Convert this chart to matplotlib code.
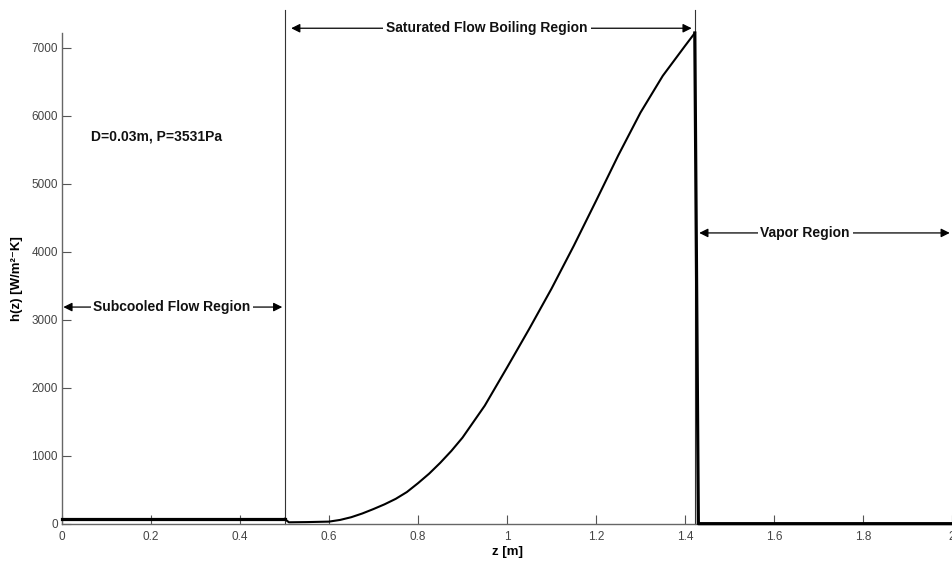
import matplotlib
matplotlib.use('Agg')
import matplotlib.pyplot as plt

# heat transfer coefficient along the tube
z_sub = [0.0, 0.5]
h_sub = [75, 75]

z_sat = [0.5, 0.51, 0.55, 0.6, 0.625, 0.65, 0.675, 0.7, 0.725, 0.75, 0.775,
         0.8, 0.825, 0.85, 0.875, 0.9, 0.95, 1.0, 1.05, 1.1, 1.15, 1.2,
         1.25, 1.3, 1.35, 1.4, 1.422]
h_sat = [75, 25, 28, 35, 60, 100, 155, 220, 290, 370, 470,
         600, 740, 900, 1075, 1270, 1740, 2300, 2870, 3460, 4090, 4750,
         5420, 6050, 6590, 7030, 7220]

z_vap = [1.422, 1.43, 2.0]
h_vap = [7220, 5, 5]

boundaries = [0.5, 1.422]
xticks = [0, 0.2, 0.4, 0.6, 0.8, 1, 1.2, 1.4, 1.6, 1.8, 2]
yticks = [0, 1000, 2000, 3000, 4000, 5000, 6000, 7000]

plt.rcParams['font.family'] = ['Liberation Sans', 'DejaVu Sans']

fig = plt.figure(figsize=(9.52, 5.64), dpi=100)
ax = fig.add_axes([62/952, 40/564, 890/952, 491/564])

ax.plot(z_sub, h_sub, color='k', lw=2.3, clip_on=False, zorder=3)
ax.plot(z_sat, h_sat, color='k', lw=1.5, clip_on=False, zorder=3,
        solid_joinstyle='round')
ax.plot(z_vap, h_vap, color='k', lw=2.3, clip_on=False, zorder=3)

for b in boundaries:
    ax.plot([b, b], [0, 7560], color='#333333', lw=0.8, clip_on=False)

ax.set_xlim(0, 2)
ax.set_ylim(0, 7220)
ax.set_xticks(xticks)
ax.set_xticklabels(['%g' % t for t in xticks])
ax.set_yticks(yticks)

for s in ['top', 'right']:
    ax.spines[s].set_visible(False)
for s in ['left', 'bottom']:
    ax.spines[s].set_color('#666666')
    ax.spines[s].set_linewidth(1.0)
ax.tick_params(direction='in', length=6.5, width=0.8, color='#555555',
               labelsize=8.5, labelcolor='#444444')
ax.tick_params(axis='x', pad=5)
ax.tick_params(axis='y', pad=3)

ax.set_xlabel('z [m]', fontsize=9.5, fontweight='bold', labelpad=2)
ax.set_ylabel('h(z) [W/m²⁻K]', fontsize=9.5, fontweight='bold', labelpad=6)

def region(x0, x1, y, xt, label):
    ax.annotate('', xy=(x0, y), xytext=(x1, y), annotation_clip=False,
                arrowprops=dict(arrowstyle='<|-|>', color='k', lw=0.9,
                                mutation_scale=13, shrinkA=0, shrinkB=0))
    ax.text(xt, y, label, ha='center', va='center', fontsize=10, fontweight='bold',
            color='#111111', bbox=dict(facecolor='white', edgecolor='none', pad=2),
            clip_on=False, zorder=5)

region(0.515, 1.415, 7290, 0.955, 'Saturated Flow Boiling Region')
region(0.003, 0.495, 3190, 0.247, 'Subcooled Flow Region')
region(1.432, 1.995, 4280, 1.67, 'Vapor Region')

ax.text(0.065, 5700, 'D=0.03m, P=3531Pa', ha='left', va='center', fontsize=10,
        fontweight='bold', color='#111111')

fig.savefig('out.png', dpi=100)
